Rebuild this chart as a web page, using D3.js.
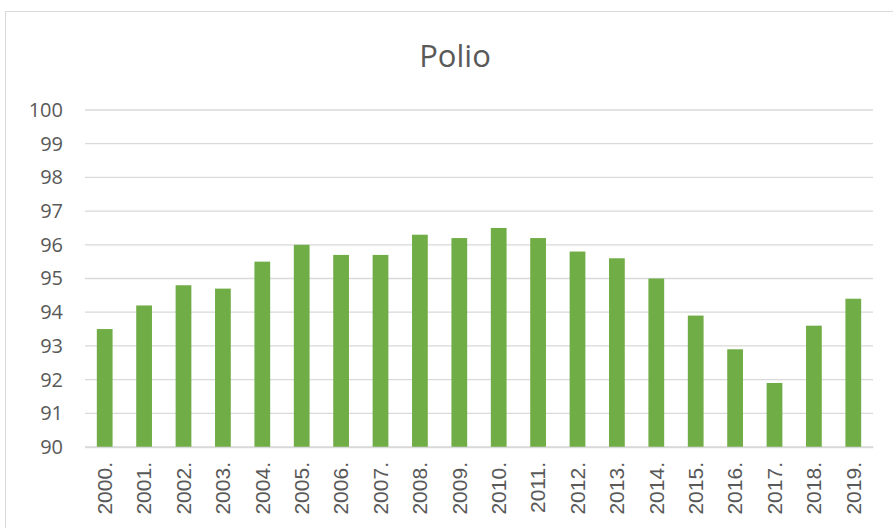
<!DOCTYPE html>
<html>
<head>
<meta charset="utf-8">
<script src="https://cdn.jsdelivr.net/npm/d3@7"></script>
<style>
  body { margin: 0; background: #fff; }
  text { font-family: "Open Sans", "Noto Sans", sans-serif; fill: #595959; }
</style>
</head>
<body>
<svg id="chart" width="893" height="528"></svg>
<script>
const years = ["2000.", "2001.", "2002.", "2003.", "2004.", "2005.", "2006.", "2007.", "2008.", "2009.",
               "2010.", "2011.", "2012.", "2013.", "2014.", "2015.", "2016.", "2017.", "2018.", "2019."]
const polio = [93.5, 94.2, 94.8, 94.7, 95.5, 96.0, 95.7, 95.7, 96.3, 96.2,
               96.5, 96.2, 95.8, 95.6, 95.0, 93.9, 92.9, 91.9, 93.6, 94.4]
const yTicks = [90, 91, 92, 93, 94, 95, 96, 97, 98, 99, 100]
const title = "Polio"

let svg = d3.select("#chart"),
    margin = {top: 110, right: 20, bottom: 81, left: 85},
    width = +svg.attr("width") - margin.left - margin.right,
    height = +svg.attr("height") - margin.top - margin.bottom

// chart area border (runs off the right and bottom of the picture)
svg.append("rect")
   .attr("x", 5.5).attr("y", 11.5)
   .attr("width", 900).attr("height", 600)
   .attr("fill", "none")
   .attr("stroke", "#d9d9d9")

svg.append("text")
   .attr("x", 455).attr("y", 67)
   .attr("text-anchor", "middle")
   .style("font-size", "31px")
   .text(title)

let focus = svg.append("g")
               .attr("transform", "translate(" + margin.left + "," + margin.top + ")")

let x = d3.scaleBand()
          .domain(years)
          .range([0, width])
          .paddingInner(0.6)
          .paddingOuter(0.3)

let y = d3.scaleLinear()
          .domain([90, 100])
          .range([height, 0])

// gridlines
focus.append("g")
     .selectAll("line")
     .data(yTicks)
     .join("line")
     .attr("x1", 0).attr("x2", width)
     .attr("y1", d => y(d)).attr("y2", d => y(d))
     .attr("stroke", "#d9d9d9")
     .attr("stroke-width", 1.3)

// y axis labels
let yAxis = focus.append("g")
                 .call(d3.axisLeft(y).tickValues(yTicks).tickSize(0).tickPadding(22))
yAxis.select(".domain").remove()
yAxis.selectAll("text").style("font-size", "20px").attr("fill", "#595959")

// bars
focus.selectAll(".bar")
     .data(polio)
     .join("rect")
     .attr("class", "bar")
     .attr("x", (d, i) => x(years[i]))
     .attr("y", d => y(d))
     .attr("width", x.bandwidth())
     .attr("height", d => height - y(d))
     .attr("fill", "#70ad47")

// x axis
let xAxis = focus.append("g")
                 .attr("transform", "translate(0," + height + ")")
                 .call(d3.axisBottom(x).tickSize(0).tickPadding(0))
xAxis.select(".domain").attr("stroke", "#d9d9d9").attr("stroke-width", 1.3)
xAxis.selectAll("text")
     .style("font-family", "'Liberation Sans', Arial, sans-serif")
     .style("font-size", "21px")
     .attr("fill", "#595959")
     .attr("text-anchor", "end")
     .attr("dy", "0.35em")
     .attr("transform", "translate(0,15) rotate(-90)")
</script>
</body>
</html>
